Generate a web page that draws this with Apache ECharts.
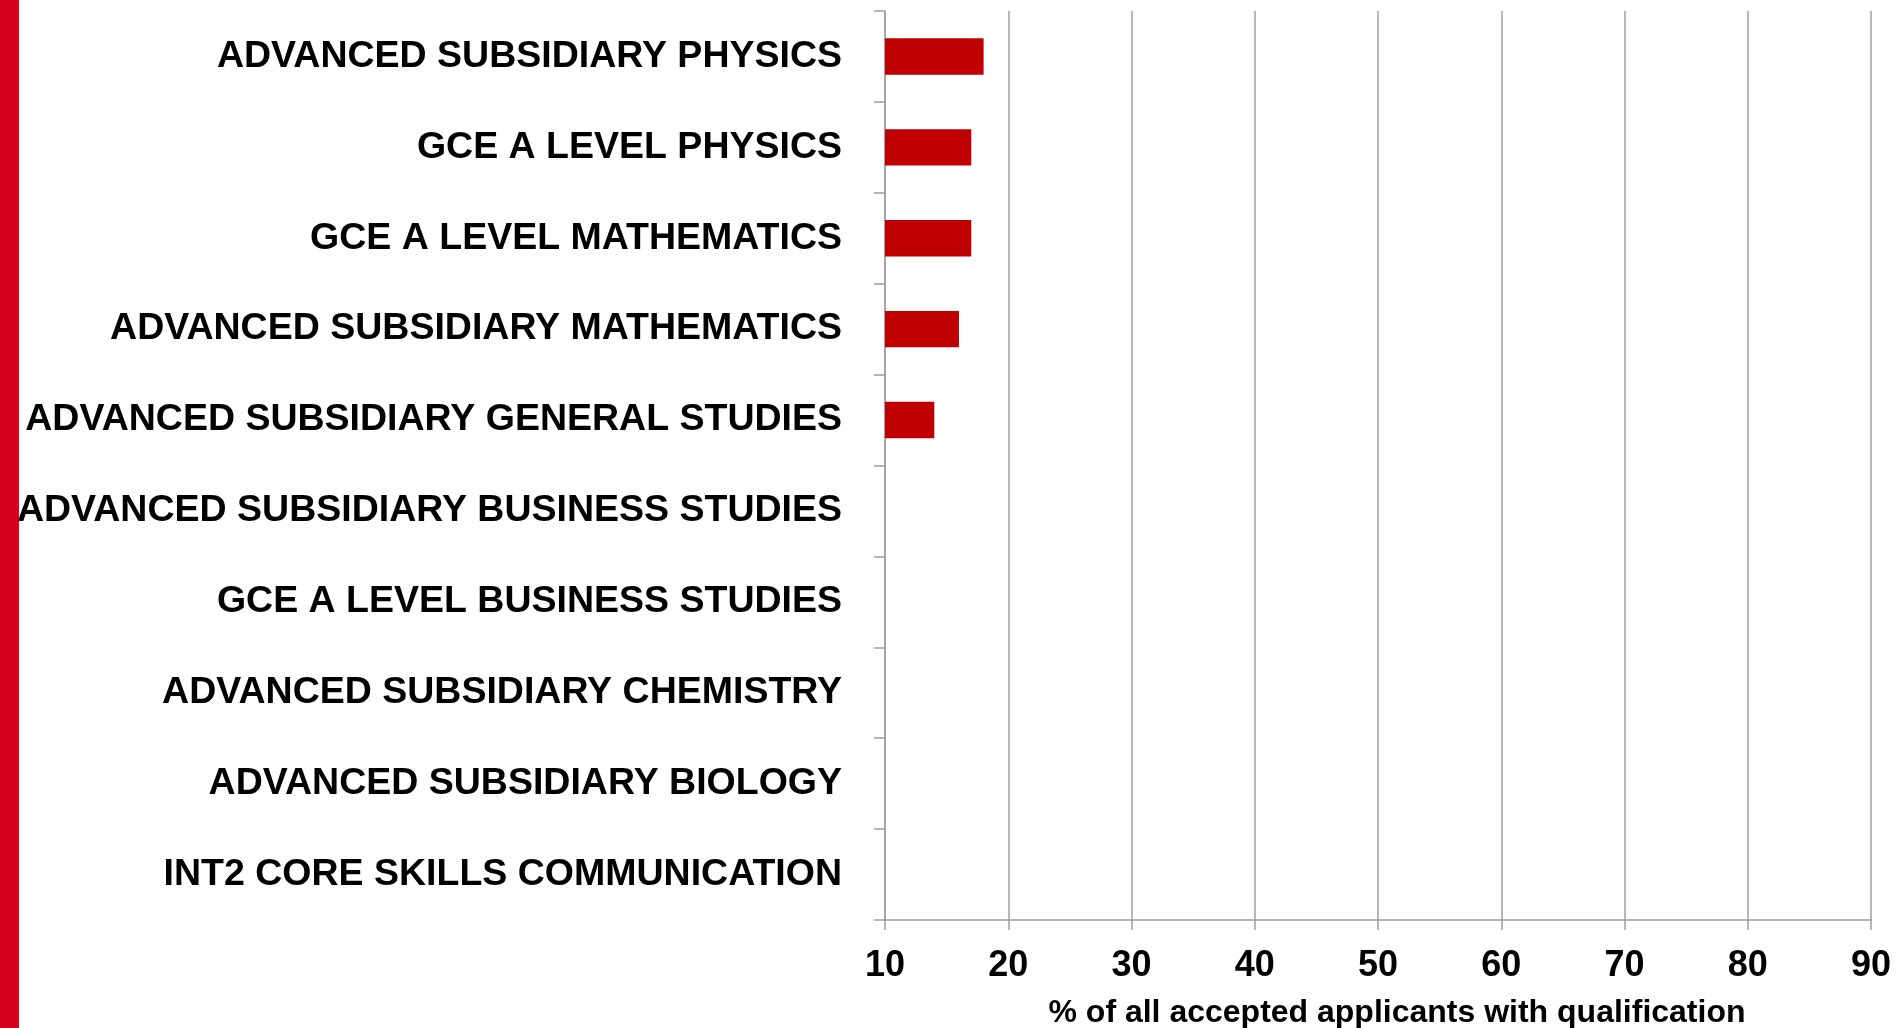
<!DOCTYPE html>
<html>
<head>
<meta charset="utf-8">
<script src="https://cdn.jsdelivr.net/npm/echarts@6/dist/echarts.min.js"></script>
<style>
html,body{margin:0;padding:0;background:#fff;}
#chart{width:1897px;height:1028px;}
</style>
</head>
<body>
<div id="chart"></div>
<script>
const categories = [
  'ADVANCED SUBSIDIARY PHYSICS',
  'GCE A LEVEL PHYSICS',
  'GCE A LEVEL MATHEMATICS',
  'ADVANCED SUBSIDIARY MATHEMATICS',
  'ADVANCED SUBSIDIARY GENERAL STUDIES',
  'ADVANCED SUBSIDIARY BUSINESS STUDIES',
  'GCE A LEVEL BUSINESS STUDIES',
  'ADVANCED SUBSIDIARY CHEMISTRY',
  'ADVANCED SUBSIDIARY BIOLOGY',
  'INT2 CORE SKILLS COMMUNICATION'
];
const percentValues = [18, 17, 17, 16, 14, 9, 9, 8, 8, 7];
const xTickMin = 10;
const xTickMax = 90;
const xTickStep = 10;
const xAxisTitle = '% of all accepted applicants with qualification';

const chart = echarts.init(document.getElementById('chart'));
const font = '"Liberation Sans", Arial, Helvetica, sans-serif';
const gray = '#9f9f9f';
chart.setOption({
  animation: false,
  backgroundColor: '#ffffff',
  graphic: [{
    type: 'rect',
    left: 0, top: 0,
    shape: {width: 19, height: 1028},
    style: {fill: '#d7001f'},
    z: 100
  }],
  grid: {left: 885, right: 26, top: 11, bottom: 108, containLabel: false, outerBoundsMode: 'none'},
  xAxis: {
    type: 'value',
    min: xTickMin, max: xTickMax, interval: xTickStep,
    axisLine: {show: true, lineStyle: {color: gray, width: 1.5}},
    axisTick: {show: true, length: 10, lineStyle: {color: gray, width: 1.5}},
    splitLine: {show: true, lineStyle: {color: gray, width: 1.5}},
    axisLabel: {fontSize: 36, fontWeight: 'bold', color: '#000', fontFamily: font, margin: 28},
    name: xAxisTitle,
    nameLocation: 'middle',
    nameGap: 77,
    nameTextStyle: {fontSize: 32, fontWeight: 'bold', color: '#000', fontFamily: font, padding: [0, 0, 0, 38]}
  },
  yAxis: {
    type: 'category',
    data: categories,
    inverse: true,
    axisLine: {show: true, lineStyle: {color: gray, width: 1.5}},
    axisTick: {show: true, length: 11, lineStyle: {color: gray, width: 1.5}},
    axisLabel: {fontSize: 37.5, fontWeight: 'bold', color: '#000', fontFamily: font, margin: 43, padding: [7, 0, 0, 0]},
    splitLine: {show: false}
  },
  series: [{
    type: 'bar',
    data: percentValues,
    barCategoryGap: '60%',
    clip: true,
    itemStyle: {color: '#c00000'}
  }]
});
</script>
</body>
</html>
